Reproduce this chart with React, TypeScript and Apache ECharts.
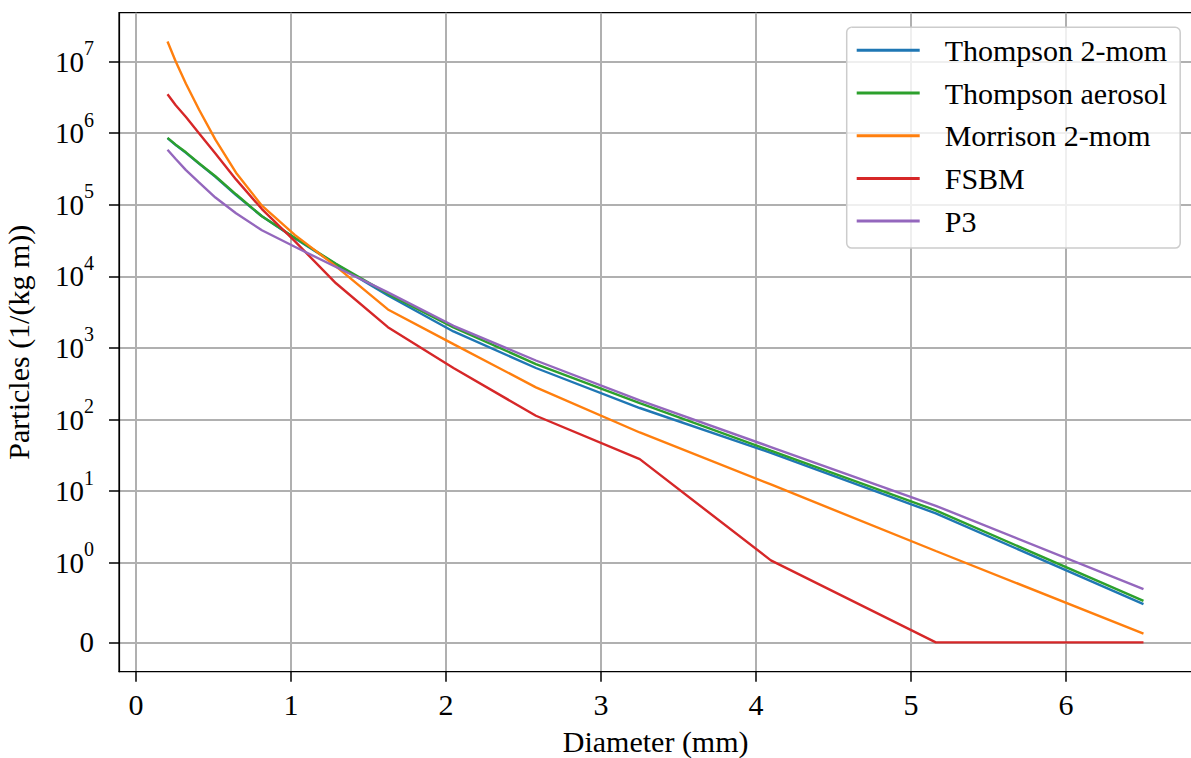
import React, { useEffect, useRef } from "react";
import * as echarts from "echarts";

// Diameter bins (mm)
const diameters = [0.203, 0.256, 0.322, 0.406, 0.512, 0.645, 0.812, 1.024, 1.29, 1.625, 2.048, 2.58, 3.25, 4.096, 5.16, 6.5];

// Particles (1/(kg m))
const thompson2mom = [8.5e5, 6.8e5, 5.3e5, 3.75e5, 2.45e5, 1.36e5, 6.9e4, 3.4e4, 1.47e4, 5.4e3, 1.7e3, 525, 145, 34.3, 4.9, 0.48];
const thompsonAerosol = [8.6e5, 6.9e5, 5.4e5, 3.8e5, 2.5e5, 1.4e5, 6.9e4, 3.45e4, 1.5e4, 5.7e3, 1.94e3, 596, 170, 36.8, 5.4, 0.52];
const morrison2mom = [1.9e7, 1.0e7, 4.9e6, 2.14e6, 8.1e5, 2.8e5, 9.7e4, 3.8e4, 1.38e4, 3.45e3, 1.13e3, 282, 66, 12.4, 1.46, 0.11];
const fsbm = [3.5e6, 2.45e6, 1.68e6, 1.0e6, 5.2e5, 2.26e5, 8.7e4, 3.1e4, 8.0e3, 1.95e3, 525, 113, 28, 1.08, 0, 0];
const p3 = [5.86e5, 4.35e5, 3.05e5, 2.05e5, 1.26e5, 7.6e4, 4.4e4, 2.59e4, 1.35e4, 5.96e3, 2.04e3, 668, 186, 41.3, 6.25, 0.67];

const seriesNames = ["Thompson 2-mom", "Thompson aerosol", "Morrison 2-mom", "FSBM", "P3"];
const seriesColors = ["#1f77b4", "#2ca02c", "#ff7f0e", "#d62728", "#9467bd"];
const seriesValues = [thompson2mom, thompsonAerosol, morrison2mom, fsbm, p3];

const xTicks = [0, 1, 2, 3, 4, 5, 6];
const yTickExponents = [0, 1, 2, 3, 4, 5, 6, 7]; // 10^0 .. 10^7 (plus a 0 tick)

// symlog transform (linthresh = 1, linscale = 1, base 10)
const LIN = 1 / (1 - 1 / 10);
const symlog = (v: number) => (Math.abs(v) <= 1 ? v * LIN : Math.sign(v) * (LIN + Math.log10(Math.abs(v))));

const FONT = "Liberation Serif";

export default function App() {
  const ref = useRef<HTMLDivElement>(null);

  useEffect(() => {
    document.body.style.margin = "0";
    if (!ref.current) return;
    const chart = echarts.init(ref.current, undefined, { renderer: "svg" });

    const yTickValues = [0, ...yTickExponents.map((k) => LIN + k)];

    const option: any = {
      animation: false,
      backgroundColor: "#ffffff",
      grid: {
        left: 119,
        top: 12.7,
        width: 1073.3,
        height: 659,
        show: true,
        borderColor: "#000000",
        borderWidth: 1.2,
        backgroundColor: "transparent",
        containLabel: false,
        outerBoundsMode: "none",
      },
      legend: {
        data: seriesNames,
        orient: "vertical",
        left: 846.7,
        top: 27.3,
        padding: [8, 13, 12, 10],
        itemGap: 12.7,
        itemWidth: 63,
        itemHeight: 3,
        icon: "rect",
        backgroundColor: "rgba(255,255,255,0.8)",
        borderColor: "#cccccc",
        borderWidth: 1.5,
        borderRadius: 5,
        textStyle: { fontFamily: FONT, fontSize: 30, color: "#000", padding: [0, 0, 0, 20], lineHeight: 30 },
      },
      xAxis: {
        type: "value",
        min: -0.11,
        max: 6.815,
        name: "Diameter (mm)",
        nameLocation: "middle",
        nameGap: 55,
        nameTextStyle: { fontFamily: FONT, fontSize: 30, color: "#000", lineHeight: 30 },
        axisLine: { show: true, onZero: false, lineStyle: { color: "#000", width: 1.2 } },
        axisTick: { show: true, customValues: xTicks, length: 10, lineStyle: { color: "#000", width: 1.5 } },
        axisLabel: {
          customValues: xTicks,
          margin: 18,
          fontFamily: FONT,
          fontSize: 30,
          color: "#000",
          formatter: (v: number) => String(Math.round(v)),
        },
        splitLine: { show: true, lineStyle: { color: "#b0b0b0", width: 2 } },
      },
      yAxis: {
        type: "value",
        min: -0.41,
        max: 8.793,
        name: "Particles (1/(kg m))",
        nameLocation: "middle",
        nameGap: 86,
        nameTextStyle: { fontFamily: FONT, fontSize: 30, color: "#000" },
        axisLine: { show: true, onZero: false, lineStyle: { color: "#000", width: 1.2 } },
        axisTick: { show: true, customValues: yTickValues, length: 10, lineStyle: { color: "#000", width: 1.5 } },
        axisLabel: {
          customValues: yTickValues,
          margin: 25,
          fontFamily: FONT,
          color: "#000",
          formatter: (v: number) => {
            if (Math.abs(v) < 1e-6) return "{b|0}";
            const k = Math.round(v - LIN);
            return "{b|10}{s|" + k + "}";
          },
          rich: {
            b: { fontFamily: FONT, fontSize: 29, lineHeight: 29, verticalAlign: "bottom", color: "#000" },
            s: { fontFamily: FONT, fontSize: 20, lineHeight: 20, padding: [0, 0, 18, 0], verticalAlign: "bottom", color: "#000" },
          },
        },
        splitLine: { show: true, lineStyle: { color: "#b0b0b0", width: 2 } },
      },
      series: seriesNames.map((name, i) => ({
        name,
        type: "line",
        data: diameters.map((d, j) => [d, symlog(seriesValues[i][j])]),
        showSymbol: false,
        symbol: "none",
        lineStyle: { color: seriesColors[i], width: 2.4 },
        itemStyle: { color: seriesColors[i] },
        z: 3 + i,
      })),
    };

    chart.setOption(option);
    return () => chart.dispose();
  }, []);

  return <div ref={ref} style={{ width: 1191, height: 758 }} />;
}
